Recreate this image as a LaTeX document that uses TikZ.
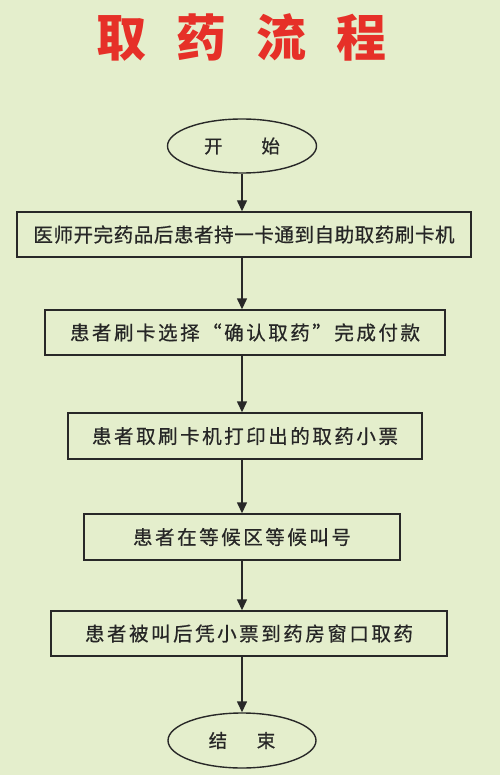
\documentclass[tikz,border=0pt]{standalone}
\usepackage{fontspec}
\newfontfamily\cjk[FakeBold=0.6]{Noto Sans CJK SC}
\newfontfamily\cjkboxa[LetterSpace=3,FakeBold=0.6]{Noto Sans CJK SC}
\newfontfamily\cjkboxb[LetterSpace=13,FakeBold=0.6]{Noto Sans CJK SC}
\newfontfamily\cjktitle{Noto Sans CJK SC}
\usetikzlibrary{arrows.meta,shapes.geometric}
\definecolor{bg}{RGB}{228,238,204}
\definecolor{ttl}{RGB}{230,48,40}
\definecolor{ln}{RGB}{40,40,40}
\begin{document}
\begin{tikzpicture}[x=1pt,y=-1pt,
  stepbox/.style={draw=ln,line width=1.4pt,fill=bg,rectangle,inner sep=0pt,
    font=\cjkboxb\fontsize{19.5pt}{22pt}\selectfont,text=black!85},
  term/.style={draw=ln,line width=1.4pt,fill=bg,ellipse,inner sep=0pt,
    font=\cjk\fontsize{18.5pt}{21pt}\selectfont,text=black!85},
  arr/.style={draw=ln,line width=1.4pt,-{Triangle[length=11pt,width=10pt]}}]
\fill[bg] (0,0) rectangle (500,775);
\useasboundingbox (0,0) rectangle (500,775);
\node[font=\cjktitle\bfseries\fontsize{50pt}{56pt}\selectfont,text=ttl] (title) at (241,37)
  {取\hspace{30pt}药\hspace{30pt}流\hspace{30pt}程};
\node[term,minimum width=149pt,minimum height=54pt] (s) at (242,146) {\raisebox{-4pt}{开\hspace{2.1em}始}};
\node[stepbox,minimum width=454pt,minimum height=45pt,font=\cjkboxa\fontsize{19.5pt}{22pt}\selectfont] (b1) at (244,234.5) {医师开完药品后患者持一卡通到自助取药刷卡机};
\node[stepbox,minimum width=400pt,minimum height=45pt] (b2) at (245,332.5) {患者刷卡选择“确认取药”完成付款};
\node[stepbox,minimum width=354pt,minimum height=46pt] (b3) at (245,436) {患者取刷卡机打印出的取药小票};
\node[stepbox,minimum width=316pt,minimum height=46pt] (b4) at (242,537) {患者在等候区等候叫号};
\node[stepbox,minimum width=396pt,minimum height=45pt] (b5) at (249,633.5) {患者被叫后凭小票到药房窗口取药};
\node[term,minimum width=148pt,minimum height=55pt] (e) at (242,740.5) {结\hspace{1.6em}束};
\draw[arr] (s.south) -- (s.south |- b1.north);
\draw[arr] (s.south |- b1.south) -- (s.south |- b2.north);
\draw[arr] (s.south |- b2.south) -- (s.south |- b3.north);
\draw[arr] (s.south |- b3.south) -- (s.south |- b4.north);
\draw[arr] (s.south |- b4.south) -- (s.south |- b5.north);
\draw[arr] (s.south |- b5.south) -- (e.north);
\end{tikzpicture}
\end{document}
